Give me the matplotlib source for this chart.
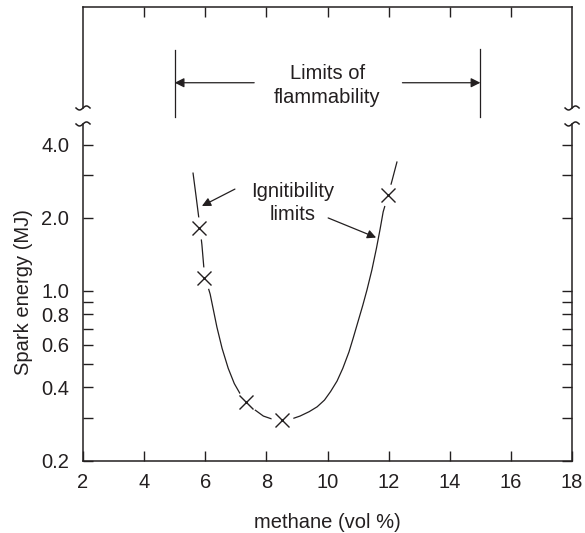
import matplotlib
matplotlib.use('Agg')
import matplotlib.pyplot as plt
import matplotlib.transforms as mtrans
import numpy as np

plt.rcParams['font.family'] = ['Liberation Sans', 'DejaVu Sans']
ink = '#231f20'
fs = 14.5

# measured points (x marks)
meth_pts = [5.8, 5.96, 7.33, 8.51, 11.98]
energy_pts = [1.82, 1.13, 0.35, 0.293, 2.48]

# hand-drawn curve
curve_x = [5.6, 5.7, 5.8, 5.89, 5.96, 6.05, 6.16, 6.27, 6.38, 6.55, 6.75, 6.95,
           7.15, 7.33, 7.6, 7.9, 8.2, 8.51, 8.8, 9.1, 9.4, 9.66, 9.9, 10.1,
           10.31, 10.5, 10.7, 10.84, 11.0, 11.15, 11.29, 11.45, 11.6, 11.72,
           11.82, 11.98, 12.11, 12.27]
curve_y = [3.06, 2.45, 1.95, 1.55, 1.22, 1.08, 0.97, 0.83, 0.71, 0.58, 0.48, 0.415,
           0.375, 0.35, 0.325, 0.305, 0.296, 0.293, 0.296, 0.305, 0.318, 0.333,
           0.355, 0.385, 0.425, 0.48, 0.56, 0.64, 0.75, 0.87, 1.01, 1.22, 1.5,
           1.8, 2.12, 2.48, 2.85, 3.4]

xticks = [2, 4, 6, 8, 10, 12, 14, 16, 18]
yticks = [0.2, 0.4, 0.6, 0.8, 1.0, 2.0, 4.0]
yminor = [0.3, 0.5, 0.7, 0.9, 3.0]

fig = plt.figure(figsize=(5.85, 5.33), dpi=100)
ax = fig.add_axes([0.1419, 0.1360, 0.8360, 0.6314])
top = fig.add_axes([0.1419, 0.7974, 0.8360, 0.1895])

ax.plot(curve_x, curve_y, color=ink, lw=0.9, zorder=2)
ax.plot(meth_pts, energy_pts, ls='none', marker='o', ms=16, mfc='white', mec='none', zorder=3)
ax.plot(meth_pts, energy_pts, ls='none', marker='x', ms=10.5, mew=1.0, color=ink, zorder=4)

ax.set_yscale('log')
ax.set_xlim(2, 18)
ax.set_ylim(0.2, 4.88)
ax.set_xticks(xticks)
ax.set_xticklabels([str(v) for v in xticks])
ax.set_yticks(yticks)
ax.set_yticklabels(['%.1f' % v for v in yticks])
ax.set_yticks(yminor, minor=True)
ax.set_yticklabels([], minor=True)
ax.tick_params(which='both', direction='in', length=7, width=1, colors=ink,
               labelsize=fs, right=True)
ax.tick_params(axis='y', which='both', pad=10)
ax.tick_params(axis='x', pad=9)
ax.set_xlabel('methane (vol %)', fontsize=fs, color=ink, labelpad=15)
ax.set_ylabel('Spark energy (MJ)', fontsize=fs, color=ink, labelpad=6)
ax.spines['top'].set_visible(False)
for s in ['left', 'right', 'bottom']:
    ax.spines[s].set_color(ink)
    ax.spines[s].set_linewidth(1.1)

ax.text(8.87, 2.3, 'Ignitibility\nlimits', ha='center', va='center',
        fontsize=fs, color=ink, linespacing=1.28)
ax.annotate('', xy=(5.89, 2.24), xytext=(6.97, 2.63),
            arrowprops=dict(arrowstyle='-|>', color=ink, lw=0.9,
                            mutation_scale=13, shrinkA=0, shrinkB=0))
ax.annotate('', xy=(11.59, 1.66), xytext=(10.02, 2.0),
            arrowprops=dict(arrowstyle='-|>', color=ink, lw=0.9,
                            mutation_scale=13, shrinkA=0, shrinkB=0))

# upper panel
top.set_xlim(2, 18)
top.set_ylim(0, 1)
top.set_xticks(xticks[1:-1])
top.set_yticks([])
top.tick_params(axis='x', direction='in', length=7, width=1, colors=ink,
                labelbottom=False, top=True, bottom=False)
top.spines['bottom'].set_visible(False)
for s in ['left', 'right', 'top']:
    top.spines[s].set_color(ink)
    top.spines[s].set_linewidth(1.1)

top.plot([5, 5], [-0.09, 0.574], color=ink, lw=0.9, clip_on=False)
top.plot([15, 15], [-0.09, 0.584], color=ink, lw=0.9, clip_on=False)
top.text(10, 0.22, 'Limits of\nflammability', ha='center', va='center',
         fontsize=fs, color=ink, linespacing=1.35)
top.annotate('', xy=(5, 0.25), xytext=(7.6, 0.25),
             arrowprops=dict(arrowstyle='-|>', color=ink, lw=0.9,
                             mutation_scale=14, shrinkA=0, shrinkB=0))
top.annotate('', xy=(15, 0.25), xytext=(12.45, 0.25),
             arrowprops=dict(arrowstyle='-|>', color=ink, lw=0.9,
                             mutation_scale=14, shrinkA=0, shrinkB=0))

# axis-break squiggles
sx = np.linspace(-0.07, 0.07, 30)
sy = 0.02 * np.sin(np.pi * sx / 0.07)
for a, yy in [(top, 0.0), (ax, 1.0)]:
    for xx in [0.0, 1.0]:
        tr = fig.dpi_scale_trans + mtrans.ScaledTranslation(xx, yy, a.transAxes)
        a.plot(sx, sy, color=ink, lw=1.1, transform=tr, clip_on=False)

fig.savefig('out.png', dpi=100)
